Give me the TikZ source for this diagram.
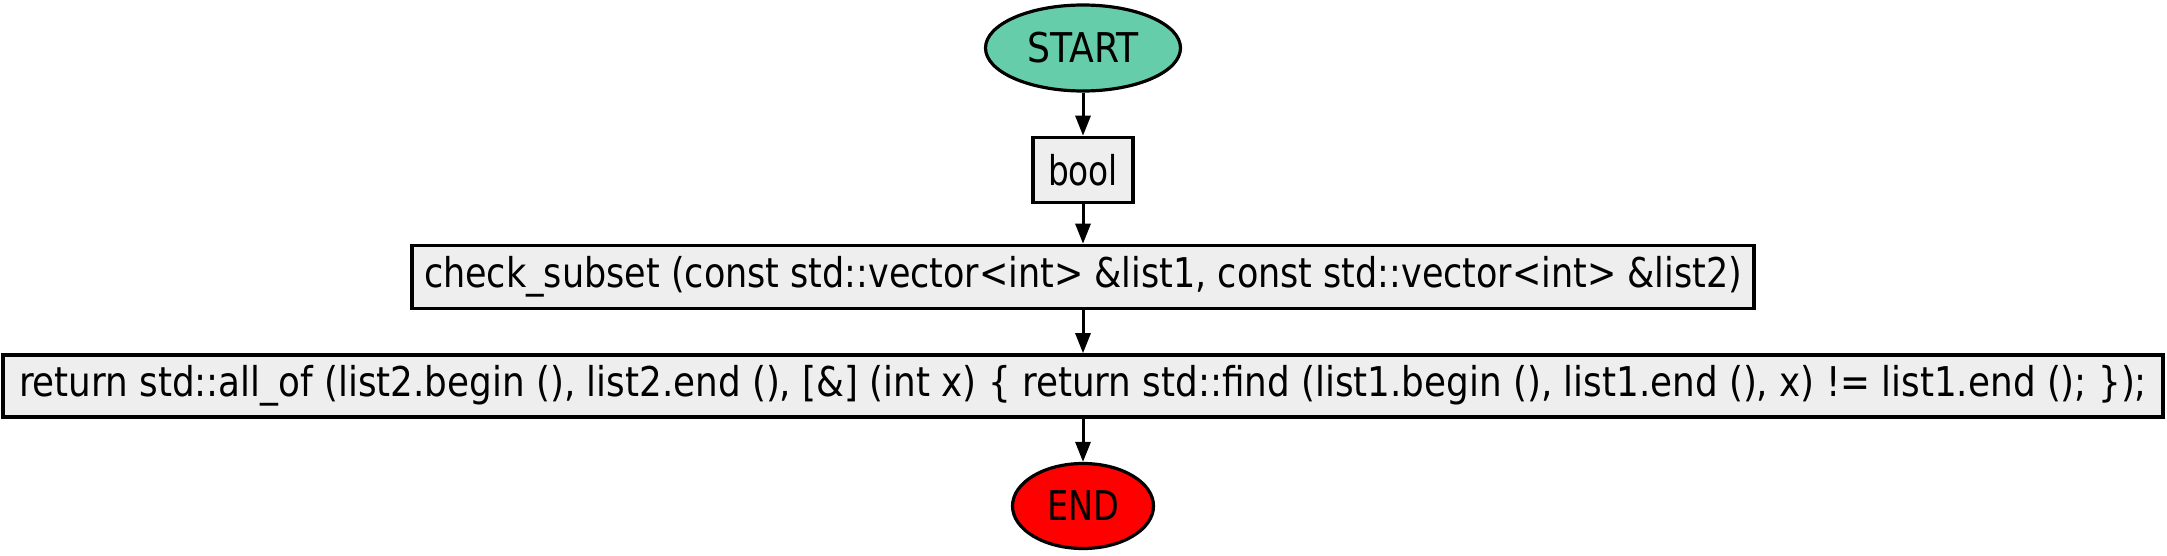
\documentclass[tikz,border=0pt]{standalone}
\usepackage{fontspec}
\usepackage{graphicx}
\setmainfont{DejaVu Sans Condensed}
\usetikzlibrary{shapes.geometric,arrows.meta}
\definecolor{startc}{RGB}{102,205,170}
\definecolor{boxc}{RGB}{238,238,238}
\definecolor{endc}{RGB}{255,0,0}
\newcommand{\fitw}[2]{\resizebox{#1}{\height}{#2}}
\tikzset{
  term/.style={ellipse,draw=black,line width=1.6pt,inner sep=0pt,font=\fontsize{20.5}{24}\selectfont},
  stepbox/.style={rectangle,draw=black,fill=boxc,line width=1.8pt,inner sep=0pt,font=\fontsize{20.5}{24}\selectfont},
  conn/.style={line width=1.5pt,-{Triangle[width=7.5pt,length=10pt]}}
}
\begin{document}
\begin{tikzpicture}[x=0.5pt,y=-0.5pt]
\useasboundingbox (0,0) rectangle (2167,556);
\node[term,fill=startc,minimum width=97.5pt,minimum height=43pt] (start) at (1083,48) {\fitw{55.5pt}{START}};
\node[stepbox,minimum width=50pt,minimum height=32.5pt] (bool) at (1083,170) {\fitw{35pt}{bool}};
\node[stepbox,minimum width=671pt,minimum height=31.5pt] (sig) at (1083,277) {\fitw{659pt}{check\_subset (const std::vector<int> \&list1, const std::vector<int> \&list2)}};
\node[stepbox,minimum width=1080pt,minimum height=31pt] (ret) at (1083,386) {\fitw{1064pt}{return std::all\_of (list2.begin (), list2.end (), [\&] (int x) \{ return std::find (list1.begin (), list1.end (), x) != list1.end (); \});}};
\node[term,fill=endc,minimum width=70.5pt,minimum height=42.5pt] (end) at (1083,506) {\fitw{36pt}{END}};
\draw[conn] (start) -- (bool);
\draw[conn] (bool) -- (sig);
\draw[conn] (sig) -- (ret);
\draw[conn] (ret) -- (end);
\end{tikzpicture}
\end{document}
